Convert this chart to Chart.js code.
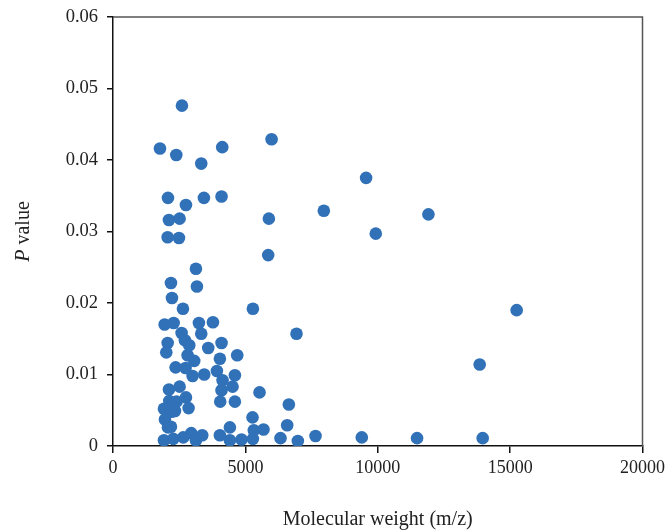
<!DOCTYPE html>
<html>
<head>
<meta charset="utf-8">
<script src="https://cdn.jsdelivr.net/npm/chart.js@4/dist/chart.umd.min.js"></script>
<style>
  html, body { margin: 0; padding: 0; background: #fff; }
  #wrap { width: 669px; height: 532px; position: relative; }
</style>
</head>
<body>
<div id="wrap"><canvas id="chart"></canvas></div>
<script>
// Molecular weight (m/z) against P value
const molWeights = [
  2604, 1774, 2390, 4126, 5990, 3333, 2076, 3434, 4100, 2755,
  2113, 2516, 5887, 2064, 2491, 5862, 3132, 2189, 3170, 2227,
  2642, 5284, 1950, 2290, 3245, 3774, 2591, 3333, 6932, 2064,
  2717, 2880, 2013, 3597, 4100, 2818, 3068, 4038, 4692, 2365,
  2742, 3925, 3006, 3446, 4139, 4604, 2113, 2516, 4100, 4516,
  5535, 2126, 2403, 2755, 4050, 4604, 1925, 2340, 2855, 2214,
  1962, 2076, 2189, 6642, 5270, 6579, 4415, 5320, 5685, 1925,
  2277, 2654, 2955, 3132, 3370, 4038, 4415, 4855, 5284, 6327,
  6982, 15247, 13850, 7650, 9397, 11485, 13964, 9560, 7963, 11914,
  9925
];
const pValues = [
  0.0476, 0.0416, 0.0407, 0.0418, 0.0429, 0.0395, 0.0347, 0.0347, 0.0349, 0.0337,
  0.0316, 0.0318, 0.0318, 0.0292, 0.0291, 0.0267, 0.0248, 0.0228, 0.0223, 0.0207,
  0.0192, 0.0192, 0.0170, 0.0172, 0.0172, 0.0173, 0.0158, 0.0157, 0.0157, 0.0144,
  0.0148, 0.0141, 0.0131, 0.0137, 0.0144, 0.0127, 0.0119, 0.0122, 0.0127, 0.0110,
  0.0109, 0.0105, 0.0098, 0.0100, 0.0092, 0.0099, 0.0079, 0.0083, 0.0078, 0.0083,
  0.0075, 0.0063, 0.0062, 0.0068, 0.0062, 0.0062, 0.0052, 0.0049, 0.0053, 0.0048,
  0.0037, 0.0026, 0.0027, 0.0058, 0.0040, 0.0029, 0.0026, 0.0022, 0.0023, 0.0008,
  0.0010, 0.0012, 0.0018, 0.0008, 0.0015, 0.0015, 0.0008, 0.0009, 0.0010, 0.0011,
  0.0007, 0.0190, 0.0114, 0.0014, 0.0012, 0.0011, 0.0011, 0.0375, 0.0329, 0.0324,
  0.0297
];
const xTicks = [0, 5000, 10000, 15000, 20000];
const yTicks = [0, 0.01, 0.02, 0.03, 0.04, 0.05, 0.06];

const serif = '"Liberation Serif", "DejaVu Serif", serif';
const points = molWeights.map((x, i) => ({ x: x, y: pValues[i] }));

// top/right frame and the y title with an italic P
const framePlugin = {
  id: 'frame',
  afterDraw(chart) {
    const ctx = chart.ctx;
    const a = chart.chartArea;
    ctx.save();
    ctx.strokeStyle = '#555';
    ctx.lineWidth = 1.5;
    ctx.beginPath();
    ctx.moveTo(a.left, a.top);
    ctx.lineTo(a.right, a.top);
    ctx.lineTo(a.right, a.bottom);
    ctx.stroke();

    ctx.translate(29, (a.top + a.bottom) / 2);
    ctx.rotate(-Math.PI / 2);
    ctx.fillStyle = '#222';
    ctx.textBaseline = 'alphabetic';
    const italic = 'italic 20px ' + serif;
    const normal = '20px ' + serif;
    ctx.font = italic;
    const w1 = ctx.measureText('P').width;
    ctx.font = normal;
    const w2 = ctx.measureText(' value').width;
    let start = -(w1 + w2) / 2;
    ctx.font = italic;
    ctx.fillText('P', start, 0);
    ctx.font = normal;
    ctx.fillText(' value', start + w1, 0);
    ctx.restore();
  }
};

new Chart(document.getElementById('chart'), {
  type: 'scatter',
  data: {
    datasets: [{
      data: points,
      backgroundColor: '#3171b8',
      borderColor: '#3171b8',
      pointRadius: 6.3,
      pointBorderWidth: 0
    }]
  },
  options: {
    responsive: true,
    maintainAspectRatio: false,
    animation: false,
    layout: { padding: { top: 17, right: 26, left: 0, bottom: 0 } },
    plugins: { legend: { display: false }, tooltip: { enabled: false } },
    scales: {
      x: {
        type: 'linear',
        min: 0,
        max: 20000,
        afterBuildTicks: (scale) => { scale.ticks = xTicks.map(v => ({ value: v })); },
        ticks: {
          color: '#222',
          font: { family: serif, size: 18 },
          padding: 4,
          maxRotation: 0,
          callback: (v) => String(v)
        },
        grid: { drawOnChartArea: false, drawTicks: true, tickLength: 7, color: '#111', lineWidth: 1.5 },
        border: { display: true, color: '#111', width: 1.5 },
        title: {
          display: true,
          text: 'Molecular weight (m/z)',
          color: '#222',
          font: { family: serif, size: 20 },
          padding: { top: 23, bottom: 0 }
        },
        afterFit: (scale) => { scale.height = 86; }
      },
      y: {
        type: 'linear',
        min: 0,
        max: 0.06,
        afterBuildTicks: (scale) => { scale.ticks = yTicks.map(v => ({ value: v })); },
        ticks: {
          color: '#222',
          font: { family: serif, size: 18.5 },
          padding: 9,
          callback: (v) => v === 0 ? '0' : v.toFixed(2)
        },
        grid: { drawOnChartArea: false, drawTicks: true, tickLength: 6, color: '#111', lineWidth: 1.5 },
        border: { display: true, color: '#111', width: 1.5 },
        afterFit: (scale) => {
          scale.width = 113;
          scale.paddingTop = 0;
          scale.paddingBottom = 0;
        }
      }
    }
  },
  plugins: [framePlugin]
});
</script>
</body>
</html>
